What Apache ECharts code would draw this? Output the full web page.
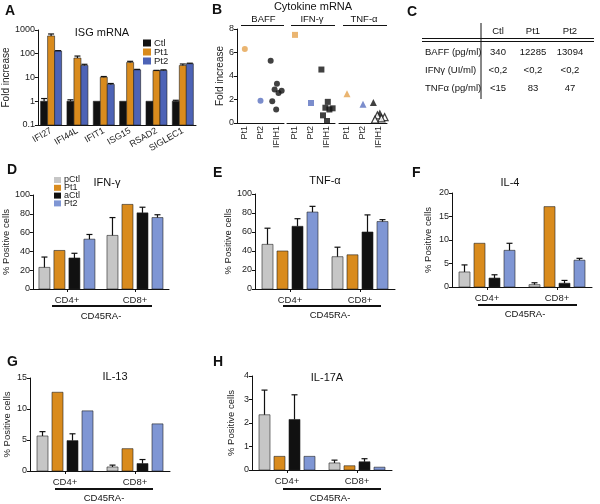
<!DOCTYPE html>
<html>
<head>
<meta charset="utf-8">
<script src="https://cdn.jsdelivr.net/npm/echarts@6/dist/echarts.min.js"></script>
<style>
html, body { margin: 0; background: #fff; }
#main { width: 600px; height: 504px; }
</style>
</head>
<body>
<div id="main"></div>
<script>
// ---- A: ISG mRNA (log scale) ----
const isgGenes = ['IFI27', 'IFI44L', 'IFIT1', 'ISG15', 'RSAD2', 'SIGLEC1']
const isgCtl = [1.0, 1.0, 1.0, 1.0, 1.0, 1.0]
const isgCtlTop = [1.3, 1.15, null, null, null, 1.1]
const isgPt1 = [560, 66, 10.3, 43, 19.5, 32]
const isgPt1Top = [680, 80, 11, 48, 20, 37]
const isgPt2 = [130, 32, 5.1, 21, 20, 38]
const isgPt2Top = [135, 36, 5.6, 22, 21, 40]

// ---- B: cytokine mRNA ----
const bCats = ['Pt1', 'Pt2', 'IFIH1']
const bPanels = ['BAFF', 'IFN-γ', 'TNF-α']
const bPt1 = [6.3, 7.5, 2.5]
const bPt2 = [1.9, 1.7, 1.6]
const bafIFIH1 = [5.3, 3.35, 2.85, 2.75, 2.55, 1.85, 1.15]
const ifngIFIH1 = [4.55, 1.8, 1.3, 1.25, 1.15, 0.65, 0.17]
const tnfIFIH1 = [1.75, 0.85, 0.65, 0.5, 0.4, 0.3]

// ---- C: table ----
const cCols = ['Ctl', 'Pt1', 'Pt2']
const cRows = ['BAFF (pg/ml)', 'IFNγ (UI/ml)', 'TNFα (pg/ml)']
const cBaff = ['340', '12285', '13094']
const cIfng = ['<0,2', '<0,2', '<0,2']
const cTnf = ['<15', '83', '47']

// ---- D-H: % positive cells, rows = pCtl, Pt1, aCtl, Pt2 ; cols = CD4+, CD8+ ----
const groups = ['pCtl', 'Pt1', 'aCtl', 'Pt2']
const cells = ['CD4+', 'CD8+']
const ifngMean = [[23, 57], [41, 90], [33, 81], [53, 76]]
const ifngTop = [[34, 76], [null, null], [38, 87], [58, 79]]
const tnfMean = [[47, 34], [40, 36], [66, 60], [81, 71]]
const tnfTop = [[64, 44], [null, null], [74, 78], [87, 73]]
const il4Mean = [[3.2, 0.5], [9.3, 17.1], [1.9, 0.8], [7.8, 5.7]]
const il4Top = [[4.7, 0.9], [null, null], [2.6, 1.4], [9.3, 6.1]]
const il13Mean = [[5.65, 0.65], [12.7, 3.6], [4.9, 1.2], [9.7, 7.6]]
const il13Top = [[6.35, 0.95], [null, null], [6.0, 1.85], [null, null]]
const il17Mean = [[2.35, 0.3], [0.58, 0.18], [2.15, 0.35], [0.58, 0.12]]
const il17Top = [[3.4, 0.42], [null, null], [3.2, 0.48], [null, null]]

const FONT = 'Liberation Sans, Arial, sans-serif'
const INK = '#111'
const groupColors = ['#c6c6c6', '#d98b1d', '#111111', '#7f96d4']
const isgColors = ['#111111', '#d98b1d', '#4d63b6']
const bOrange = '#e5a24e'
const bBlue = '#5a70bf'

const chart = echarts.init(document.getElementById('main'))

const grid = []
const xAxis = []
const yAxis = []
const series = []
const graphic = []

const baseAxis = {
	axisLine: { show: true, lineStyle: { color: INK, width: 1 } },
	axisTick: { show: true, length: 3, lineStyle: { color: INK } },
	axisLabel: { fontSize: 9, color: '#222', margin: 3, fontFamily: FONT },
	splitLine: { show: false }
}
const ax = (extra) => Object.assign({}, JSON.parse(JSON.stringify(baseAxis)), extra)

// bar + upper error bar, drawn through the axis coordinates
function barRender(offset, width, base, color) {
	return function (params, api) {
		const cat = api.value(0)
		const v = api.value(1)
		const top = api.value(2)
		const p = api.coord([cat, v])
		const b = api.coord([cat, base])
		const cx = p[0] + offset
		const children = [{
			type: 'rect',
			shape: { x: cx - width / 2, y: p[1], width: width, height: b[1] - p[1] },
			style: { fill: color, stroke: '#222', lineWidth: 0.6 }
		}]
		if (top != null && isFinite(top) && top > v) {
			const t = api.coord([cat, top])
			children.push({ type: 'line', shape: { x1: cx, y1: p[1], x2: cx, y2: t[1] }, style: { stroke: INK, lineWidth: 1.2 } })
			children.push({ type: 'line', shape: { x1: cx - 3, y1: t[1], x2: cx + 3, y2: t[1] }, style: { stroke: INK, lineWidth: 1.2 } })
		}
		return { type: 'group', children: children }
	}
}

const text = (str, x, y, size, opts) => Object.assign({
	type: 'text', silent: true,
	style: Object.assign({ text: str, x: x, y: y, font: size + 'px ' + FONT, fill: '#111', textAlign: 'center', textVerticalAlign: 'middle' }, opts || {})
})
const line = (x1, y1, x2, y2, w) => ({ type: 'line', silent: true, shape: { x1, y1, x2, y2 }, style: { stroke: INK, lineWidth: w || 1 } })
// small legend drawn by hand (rows are tighter than the legend component allows)
function legendBlock(names, colors, x, y0, step, w, h, fs) {
	names.forEach((n, k) => {
		const y = y0 + k * step
		graphic.push({ type: 'rect', silent: true, shape: { x: x, y: y - h / 2, width: w, height: h }, style: { fill: colors[k] } })
		graphic.push(text(n, x + w + 3, y, fs, { textAlign: 'left', fill: '#222' }))
	})
}

// ---------- panel A ----------
grid.push({ left: 37, top: 30, width: 159, height: 95 })
xAxis.push(ax({ type: 'category', gridIndex: 0, data: isgGenes, axisTick: { show: false },
	axisLabel: { fontSize: 9, color: '#222', rotate: 30, margin: 5, fontFamily: FONT, interval: 0 } }))
yAxis.push(ax({ type: 'log', logBase: 10, gridIndex: 0, min: 0.1, max: 1000,
	axisLabel: { fontSize: 9, color: '#222', margin: 3, fontFamily: FONT, formatter: (v) => String(v) },
	name: 'Fold increase', nameLocation: 'middle', nameGap: 22, nameTextStyle: { fontSize: 10, fontFamily: FONT, color: '#222' } }))
;[['Ctl', isgCtl, isgCtlTop], ['Pt1', isgPt1, isgPt1Top], ['Pt2', isgPt2, isgPt2Top]].forEach((s, k) => {
	series.push({
		type: 'custom', name: s[0], xAxisIndex: 0, yAxisIndex: 0,
		itemStyle: { color: isgColors[k] },
		renderItem: barRender((k - 1) * 7, 7, 0.1, isgColors[k]),
		encode: { x: 0, y: 1 },
		data: s[1].map((v, i) => [i, v, s[2][i]])
	})
})
legendBlock(['Ctl', 'Pt1', 'Pt2'], isgColors, 143, 43, 9, 8, 7, 9.5)

// ---------- panel B ----------
const bGrids = [{ left: 237, width: 47 }, { left: 287, width: 48 }, { left: 339, width: 48 }]
const bSymbols = ['circle', 'rect', 'triangle']
const bIFIH1 = [bafIFIH1, ifngIFIH1, tnfIFIH1]
const JITTER = [-0.35, 0.05, -0.1, 0.35, 0.15, -0.25, 0.0, 0.25]
bGrids.forEach((g, k) => {
	const gi = grid.length
	grid.push({ left: g.left, top: 29, width: g.width, height: 94 })
	xAxis.push(ax({ type: 'value', gridIndex: gi, min: 0, max: 3, interval: 0.5,
		axisTick: { show: false },
		axisLabel: { fontSize: 9, color: '#222', rotate: 90, margin: 3, fontFamily: FONT,
			formatter: (v) => ({ 0.5: bCats[0], 1.5: bCats[1], 2.5: bCats[2] })[v] || '' } }))
	const y = ax({ type: 'value', gridIndex: gi, min: 0, max: 8, interval: 2 })
	if (k === 0) {
		y.name = 'Fold increase'
		y.nameLocation = 'middle'
		y.nameGap = 12
		y.nameTextStyle = { fontSize: 10, fontFamily: FONT, color: '#222' }
	} else {
		y.show = false
	}
	yAxis.push(y)
	const sym = bSymbols[k]
	const size = sym === 'triangle' ? 7 : 6
	series.push({ type: 'scatter', xAxisIndex: gi, yAxisIndex: gi, symbol: sym, symbolSize: size,
		itemStyle: { color: bOrange }, data: [[0.5, bPt1[k]]] })
	series.push({ type: 'scatter', xAxisIndex: gi, yAxisIndex: gi, symbol: sym, symbolSize: size,
		itemStyle: { color: bBlue }, data: [[1.5, bPt2[k]]] })
	series.push({ type: 'scatter', xAxisIndex: gi, yAxisIndex: gi, symbol: sym, symbolSize: size,
		itemStyle: { color: INK },
		data: bIFIH1[k].map((v, i) => {
			const d = { value: [2.5 + JITTER[i % JITTER.length], v] }
			if (k === 2 && i > 1) d.itemStyle = { color: '#fff', borderColor: INK, borderWidth: 1.2 }
			return d
		}) })
	// header
	graphic.push(text(bPanels[k], g.left + (k === 0 ? 2 : 0) + g.width / 2 + 1, 19, 9.5))
	graphic.push(line(g.left + 4, 25.5, g.left + g.width, 25.5, 1.2))
})

// ---------- panels D-H ----------
const cellPanels = [
	{ title: 'IFN-γ', mean: ifngMean, top: ifngTop, max: 100, step: 20, g: { left: 29, top: 195, width: 140, height: 94 }, gap: 17,
		letter: ['D', 7, 170], titlePos: [107, 183], under: [52, 152, 306, 101, 316] },
	{ title: 'TNF-α', mean: tnfMean, top: tnfTop, max: 100, step: 20, g: { left: 255, top: 194, width: 140, height: 95 }, gap: 19,
		letter: ['E', 213, 173], titlePos: [325, 181], under: [283, 381, 306, 330, 315] },
	{ title: 'IL-4', mean: il4Mean, top: il4Top, max: 20, step: 5, g: { left: 452, top: 193, width: 140, height: 94 }, gap: 19,
		letter: ['F', 412, 173], titlePos: [510, 183], under: [478, 577, 305, 525, 314] },
	{ title: 'IL-13', mean: il13Mean, top: il13Top, max: 15, step: 5, g: { left: 30, top: 378, width: 140, height: 93 }, gap: 18,
		letter: ['G', 7, 362], titlePos: [115, 377], under: [55, 153, 489, 104, 498] },
	{ title: 'IL-17A', mean: il17Mean, top: il17Top, max: 4, step: 1, g: { left: 252, top: 376, width: 140, height: 94 }, gap: 16,
		letter: ['H', 213, 362], titlePos: [327, 378], under: [283, 381, 489, 330, 498] }
]
cellPanels.forEach((p) => {
	const gi = grid.length
	grid.push(p.g)
	xAxis.push(ax({ type: 'category', gridIndex: gi, data: cells,
		axisTick: { show: true, alignWithLabel: true, length: 3, lineStyle: { color: INK } },
		axisLabel: { fontSize: 9.5, color: '#222', margin: 6, fontFamily: FONT } }))
	yAxis.push(ax({ type: 'value', gridIndex: gi, min: 0, max: p.max, interval: p.step,
		name: '% Positive cells', nameLocation: 'middle', nameGap: p.gap,
		nameTextStyle: { fontSize: 9.5, fontFamily: FONT, color: '#222' } }))
	groups.forEach((name, k) => {
		series.push({
			type: 'custom', name: name, xAxisIndex: gi, yAxisIndex: gi,
			itemStyle: { color: groupColors[k] },
			renderItem: barRender((k - 1.5) * 15, 11, 0, groupColors[k]),
			encode: { x: 0, y: 1 },
			data: p.mean[k].map((v, i) => [i, v, p.top[k][i]])
		})
	})
	graphic.push(text(p.letter[0], p.letter[1], p.letter[2], 14, { textAlign: 'left', font: 'bold 14px ' + FONT }))
	graphic.push(text(p.title, p.titlePos[0], p.titlePos[1], 11))
	const u = p.under
	graphic.push(line(u[0], u[2], u[1], u[2], 2))
	graphic.push(text('CD45RA-', u[3], u[4], 9.5))
})
legendBlock(groups, groupColors, 54, 180, 7.8, 7, 6, 9)

// ---------- letters / titles for A, B, C ----------
graphic.push(text('A', 5, 11, 14, { textAlign: 'left', font: 'bold 14px ' + FONT }))
graphic.push(text('B', 212, 10, 14, { textAlign: 'left', font: 'bold 14px ' + FONT }))
graphic.push(text('C', 407, 12, 14, { textAlign: 'left', font: 'bold 14px ' + FONT }))
graphic.push(text('ISG mRNA', 102, 33, 11))
graphic.push(text('Cytokine mRNA', 313, 7, 11))

// ---------- table C ----------
const colX = [498, 533, 570]
cCols.forEach((c, i) => graphic.push(text(c, colX[i], 31, 9.5)))
graphic.push(line(481, 23, 481, 99, 1))
graphic.push(line(422, 38.5, 594, 38.5, 1))
graphic.push(line(422, 41.5, 594, 41.5, 1))
const rowY = [52, 70, 88]
const rowVals = [cBaff, cIfng, cTnf]
cRows.forEach((r, j) => {
	graphic.push(text(r, 425, rowY[j], 9.5, { textAlign: 'left' }))
	rowVals[j].forEach((v, i) => graphic.push(text(v, colX[i], rowY[j], 9.5)))
})

const option = {
	backgroundColor: '#fff',
	animation: false,
	textStyle: { fontFamily: FONT },
	grid: grid,
	xAxis: xAxis,
	yAxis: yAxis,
	series: series,
	graphic: graphic
}

chart.setOption(option)
</script>
</body>
</html>
